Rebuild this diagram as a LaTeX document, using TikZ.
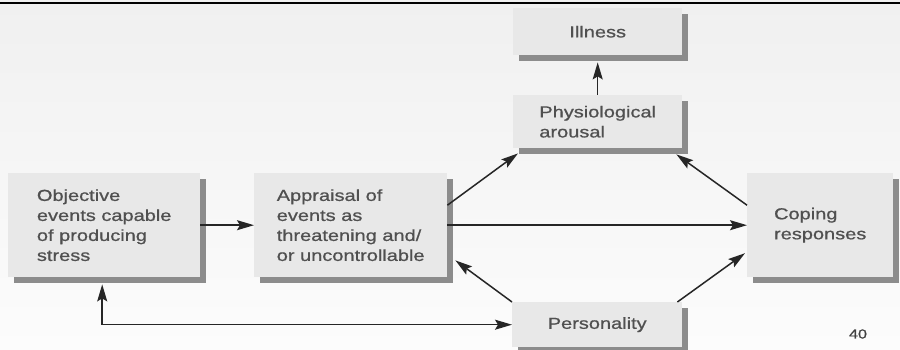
\documentclass[tikz,border=0pt]{standalone}
\usepackage{fontspec}
\usetikzlibrary{arrows.meta,shadows}
\newfontfamily\boxfont{Liberation Sans}[FakeStretch=1.25, FakeBold=0.8]
\definecolor{bgtop}{HTML}{F0F0F0}
\definecolor{bgbottom}{HTML}{FCFCFC}
\definecolor{panelfill}{HTML}{E8E8E8}
\definecolor{panelshadow}{HTML}{8C8C8C}
\definecolor{labeltext}{HTML}{505050}
\definecolor{linkcolor}{HTML}{262626}
\tikzset{
  headtip/.tip={Stealth[length=17pt, width=10pt, inset=3pt]},
  panel/.style={anchor=north west, fill=panelfill, inner sep=0pt,
    align=left, text=labeltext,
    font=\boxfont\fontsize{16}{20}\selectfont,
    drop shadow={shadow xshift=6pt, shadow yshift=-6pt,
                 fill=panelshadow, opacity=1}},
  link/.style={draw=linkcolor, line width=1.5pt, -headtip},
  twolink/.style={link, headtip-headtip}
}
\begin{document}
\begin{tikzpicture}[x=1pt, y=-1pt]
  % page area with a soft vertical gradient and the rule at the top
  \useasboundingbox (0,0) rectangle (900,350);
  \fill[top color=bgtop, bottom color=bgbottom] (0,0) rectangle (900,350);
  \draw[line width=1.5pt, black] (0,3) -- (900,3);

  % boxes
  \node[panel, minimum width=192pt, minimum height=104pt] (obj) at (8,173)
    {Objective\\events capable\\of producing\\stress};
  \node[panel, minimum width=193pt, minimum height=104pt] (appr) at (254,173)
    {Appraisal of\\events as\\threatening and/\\or uncontrollable};
  \node[panel, minimum width=146pt, minimum height=104pt] (cope) at (747,173)
    {Coping\\responses};
  \node[panel, minimum width=169pt, minimum height=47pt] (ill) at (513,8)
    {Illness};
  \node[panel, minimum width=169pt, minimum height=53pt] (phys) at (513,95)
    {Physiological\\arousal};
  \node[panel, minimum width=170pt, minimum height=45pt] (pers) at (512,302)
    {Personality};

  % connections
  \draw[link] (obj.east) -- (appr.west);
  \draw[link] (appr.east) -- (cope.west);
  \draw[link] ([yshift=20pt]appr.east) -- ([xshift=5pt, yshift=-5pt]phys.south west);
  \draw[link] ([yshift=20pt]cope.west) -- ([xshift=-6pt, yshift=-6pt]phys.south east);
  \draw[link] (phys.north) -- ([yshift=-7pt]ill.south);
  \draw[link] (pers.north west) -- ([xshift=8pt, yshift=17pt]appr.south east);
  \draw[link] ([xshift=-5pt]pers.north east) -- ([xshift=-2pt, yshift=-28pt]cope.west);
  \draw[twolink] (pers.west) -| ([xshift=-2pt, yshift=-7pt]obj.south);

  % page number
  \node[font=\boxfont\fontsize{13}{15}\selectfont, text=black!75] (pageno) at (858,334) {40};
\end{tikzpicture}
\end{document}
